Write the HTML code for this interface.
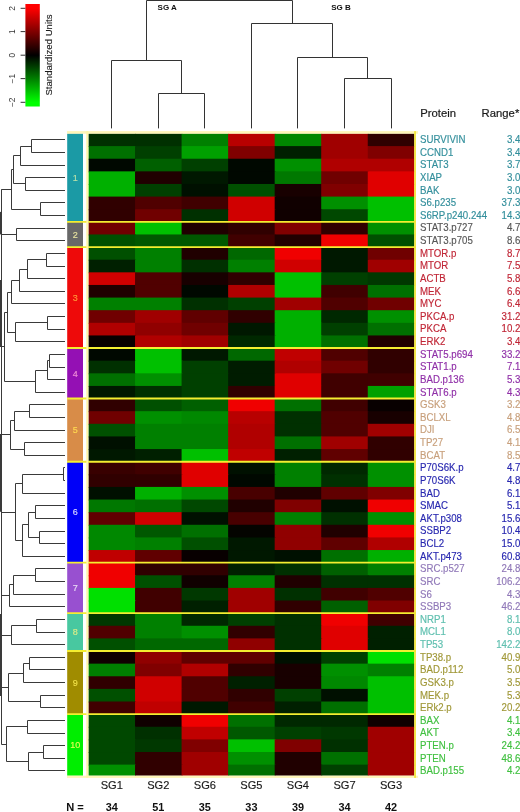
<!DOCTYPE html>
<html><head><meta charset="utf-8"><title>Heatmap</title>
<style>html,body{margin:0;padding:0;background:#fff;width:520px;height:812px;overflow:hidden}svg{display:block}</style></head><body>
<svg width="520" height="812" viewBox="0 0 520 812" font-family="'Liberation Sans', Arial, sans-serif">
<defs><linearGradient id="cb" x1="0" y1="0" x2="0" y2="1"><stop offset="0.04" stop-color="#ff0000"/><stop offset="0.5" stop-color="#000000"/><stop offset="0.96" stop-color="#00ff00"/></linearGradient></defs>
<rect width="520" height="812" fill="#ffffff"/>
<rect x="25.4" y="4" width="14.4" height="102.5" fill="url(#cb)"/>
<line x1="20.6" y1="8.3" x2="25.4" y2="8.3" stroke="#333" stroke-width="1"/>
<text x="0" y="0" transform="translate(15.2 8.3) rotate(-90)" text-anchor="middle" font-size="8.4" fill="#333">2</text>
<line x1="20.6" y1="31.6" x2="25.4" y2="31.6" stroke="#333" stroke-width="1"/>
<text x="0" y="0" transform="translate(15.2 31.6) rotate(-90)" text-anchor="middle" font-size="8.4" fill="#333">1</text>
<line x1="20.6" y1="55.2" x2="25.4" y2="55.2" stroke="#333" stroke-width="1"/>
<text x="0" y="0" transform="translate(15.2 55.2) rotate(-90)" text-anchor="middle" font-size="8.4" fill="#333">0</text>
<line x1="20.6" y1="78.6" x2="25.4" y2="78.6" stroke="#333" stroke-width="1"/>
<text x="0" y="0" transform="translate(15.2 78.6) rotate(-90)" text-anchor="middle" font-size="8.4" fill="#333">−1</text>
<line x1="20.6" y1="102.3" x2="25.4" y2="102.3" stroke="#333" stroke-width="1"/>
<text x="0" y="0" transform="translate(15.2 102.3) rotate(-90)" text-anchor="middle" font-size="8.4" fill="#333">−2</text>
<text x="0" y="0" transform="translate(52.2 55) rotate(-90)" text-anchor="middle" font-size="9.6" fill="#1a1a1a" stroke="#1a1a1a" stroke-width="0.12">Standardized Units</text>
<rect x="88.50" y="133.48" width="47.54" height="13.62" fill="#003000"/>
<rect x="135.04" y="133.48" width="47.54" height="13.62" fill="#003000"/>
<rect x="181.59" y="133.48" width="47.54" height="13.62" fill="#008000"/>
<rect x="228.13" y="133.48" width="47.54" height="13.62" fill="#b80000"/>
<rect x="274.67" y="133.48" width="47.54" height="13.62" fill="#008800"/>
<rect x="321.21" y="133.48" width="47.54" height="13.62" fill="#a00000"/>
<rect x="367.76" y="133.48" width="46.54" height="13.62" fill="#300000"/>
<rect x="88.50" y="146.10" width="47.54" height="13.62" fill="#007000"/>
<rect x="135.04" y="146.10" width="47.54" height="13.62" fill="#004000"/>
<rect x="181.59" y="146.10" width="47.54" height="13.62" fill="#00a000"/>
<rect x="228.13" y="146.10" width="47.54" height="13.62" fill="#800000"/>
<rect x="274.67" y="146.10" width="47.54" height="13.62" fill="#002000"/>
<rect x="321.21" y="146.10" width="47.54" height="13.62" fill="#a00000"/>
<rect x="367.76" y="146.10" width="46.54" height="13.62" fill="#800000"/>
<rect x="88.50" y="158.73" width="47.54" height="13.62" fill="#000800"/>
<rect x="135.04" y="158.73" width="47.54" height="13.62" fill="#006000"/>
<rect x="181.59" y="158.73" width="47.54" height="13.62" fill="#004000"/>
<rect x="228.13" y="158.73" width="47.54" height="13.62" fill="#000800"/>
<rect x="274.67" y="158.73" width="47.54" height="13.62" fill="#009000"/>
<rect x="321.21" y="158.73" width="47.54" height="13.62" fill="#b00000"/>
<rect x="367.76" y="158.73" width="46.54" height="13.62" fill="#b00000"/>
<rect x="88.50" y="171.35" width="47.54" height="13.62" fill="#00b000"/>
<rect x="135.04" y="171.35" width="47.54" height="13.62" fill="#200000"/>
<rect x="181.59" y="171.35" width="47.54" height="13.62" fill="#001800"/>
<rect x="228.13" y="171.35" width="47.54" height="13.62" fill="#000800"/>
<rect x="274.67" y="171.35" width="47.54" height="13.62" fill="#007800"/>
<rect x="321.21" y="171.35" width="47.54" height="13.62" fill="#700000"/>
<rect x="367.76" y="171.35" width="46.54" height="13.62" fill="#e00000"/>
<rect x="88.50" y="183.97" width="47.54" height="13.62" fill="#00b000"/>
<rect x="135.04" y="183.97" width="47.54" height="13.62" fill="#004000"/>
<rect x="181.59" y="183.97" width="47.54" height="13.62" fill="#001000"/>
<rect x="228.13" y="183.97" width="47.54" height="13.62" fill="#005000"/>
<rect x="274.67" y="183.97" width="47.54" height="13.62" fill="#180000"/>
<rect x="321.21" y="183.97" width="47.54" height="13.62" fill="#800000"/>
<rect x="367.76" y="183.97" width="46.54" height="13.62" fill="#e00000"/>
<rect x="88.50" y="196.59" width="47.54" height="13.62" fill="#300000"/>
<rect x="135.04" y="196.59" width="47.54" height="13.62" fill="#500000"/>
<rect x="181.59" y="196.59" width="47.54" height="13.62" fill="#400000"/>
<rect x="228.13" y="196.59" width="47.54" height="13.62" fill="#d00000"/>
<rect x="274.67" y="196.59" width="47.54" height="13.62" fill="#100000"/>
<rect x="321.21" y="196.59" width="47.54" height="13.62" fill="#009000"/>
<rect x="367.76" y="196.59" width="46.54" height="13.62" fill="#00c000"/>
<rect x="88.50" y="209.22" width="47.54" height="13.62" fill="#300000"/>
<rect x="135.04" y="209.22" width="47.54" height="13.62" fill="#700000"/>
<rect x="181.59" y="209.22" width="47.54" height="13.62" fill="#003000"/>
<rect x="228.13" y="209.22" width="47.54" height="13.62" fill="#d00000"/>
<rect x="274.67" y="209.22" width="47.54" height="13.62" fill="#100000"/>
<rect x="321.21" y="209.22" width="47.54" height="13.62" fill="#004800"/>
<rect x="367.76" y="209.22" width="46.54" height="13.62" fill="#00c000"/>
<rect x="88.50" y="221.84" width="47.54" height="13.62" fill="#700000"/>
<rect x="135.04" y="221.84" width="47.54" height="13.62" fill="#00c000"/>
<rect x="181.59" y="221.84" width="47.54" height="13.62" fill="#200000"/>
<rect x="228.13" y="221.84" width="47.54" height="13.62" fill="#300000"/>
<rect x="274.67" y="221.84" width="47.54" height="13.62" fill="#800000"/>
<rect x="321.21" y="221.84" width="47.54" height="13.62" fill="#300000"/>
<rect x="367.76" y="221.84" width="46.54" height="13.62" fill="#009000"/>
<rect x="88.50" y="234.46" width="47.54" height="13.62" fill="#005000"/>
<rect x="135.04" y="234.46" width="47.54" height="13.62" fill="#005800"/>
<rect x="181.59" y="234.46" width="47.54" height="13.62" fill="#005800"/>
<rect x="228.13" y="234.46" width="47.54" height="13.62" fill="#400000"/>
<rect x="274.67" y="234.46" width="47.54" height="13.62" fill="#200000"/>
<rect x="321.21" y="234.46" width="47.54" height="13.62" fill="#f00000"/>
<rect x="367.76" y="234.46" width="46.54" height="13.62" fill="#005000"/>
<rect x="88.50" y="247.09" width="47.54" height="13.62" fill="#005000"/>
<rect x="135.04" y="247.09" width="47.54" height="13.62" fill="#008000"/>
<rect x="181.59" y="247.09" width="47.54" height="13.62" fill="#200000"/>
<rect x="228.13" y="247.09" width="47.54" height="13.62" fill="#006800"/>
<rect x="274.67" y="247.09" width="47.54" height="13.62" fill="#f00000"/>
<rect x="321.21" y="247.09" width="47.54" height="13.62" fill="#001800"/>
<rect x="367.76" y="247.09" width="46.54" height="13.62" fill="#700000"/>
<rect x="88.50" y="259.71" width="47.54" height="13.62" fill="#002000"/>
<rect x="135.04" y="259.71" width="47.54" height="13.62" fill="#008000"/>
<rect x="181.59" y="259.71" width="47.54" height="13.62" fill="#003000"/>
<rect x="228.13" y="259.71" width="47.54" height="13.62" fill="#008000"/>
<rect x="274.67" y="259.71" width="47.54" height="13.62" fill="#d00000"/>
<rect x="321.21" y="259.71" width="47.54" height="13.62" fill="#001800"/>
<rect x="367.76" y="259.71" width="46.54" height="13.62" fill="#a00000"/>
<rect x="88.50" y="272.33" width="47.54" height="13.62" fill="#d00000"/>
<rect x="135.04" y="272.33" width="47.54" height="13.62" fill="#500000"/>
<rect x="181.59" y="272.33" width="47.54" height="13.62" fill="#180000"/>
<rect x="228.13" y="272.33" width="47.54" height="13.62" fill="#300000"/>
<rect x="274.67" y="272.33" width="47.54" height="13.62" fill="#00c000"/>
<rect x="321.21" y="272.33" width="47.54" height="13.62" fill="#004000"/>
<rect x="367.76" y="272.33" width="46.54" height="13.62" fill="#003800"/>
<rect x="88.50" y="284.96" width="47.54" height="13.62" fill="#200000"/>
<rect x="135.04" y="284.96" width="47.54" height="13.62" fill="#500000"/>
<rect x="181.59" y="284.96" width="47.54" height="13.62" fill="#000800"/>
<rect x="228.13" y="284.96" width="47.54" height="13.62" fill="#b00000"/>
<rect x="274.67" y="284.96" width="47.54" height="13.62" fill="#00c000"/>
<rect x="321.21" y="284.96" width="47.54" height="13.62" fill="#400000"/>
<rect x="367.76" y="284.96" width="46.54" height="13.62" fill="#007000"/>
<rect x="88.50" y="297.58" width="47.54" height="13.62" fill="#008000"/>
<rect x="135.04" y="297.58" width="47.54" height="13.62" fill="#008000"/>
<rect x="181.59" y="297.58" width="47.54" height="13.62" fill="#003000"/>
<rect x="228.13" y="297.58" width="47.54" height="13.62" fill="#004000"/>
<rect x="274.67" y="297.58" width="47.54" height="13.62" fill="#a00000"/>
<rect x="321.21" y="297.58" width="47.54" height="13.62" fill="#500000"/>
<rect x="367.76" y="297.58" width="46.54" height="13.62" fill="#700000"/>
<rect x="88.50" y="310.20" width="47.54" height="13.62" fill="#700000"/>
<rect x="135.04" y="310.20" width="47.54" height="13.62" fill="#a00000"/>
<rect x="181.59" y="310.20" width="47.54" height="13.62" fill="#600000"/>
<rect x="228.13" y="310.20" width="47.54" height="13.62" fill="#300000"/>
<rect x="274.67" y="310.20" width="47.54" height="13.62" fill="#00b000"/>
<rect x="321.21" y="310.20" width="47.54" height="13.62" fill="#002800"/>
<rect x="367.76" y="310.20" width="46.54" height="13.62" fill="#009000"/>
<rect x="88.50" y="322.82" width="47.54" height="13.62" fill="#b00000"/>
<rect x="135.04" y="322.82" width="47.54" height="13.62" fill="#900000"/>
<rect x="181.59" y="322.82" width="47.54" height="13.62" fill="#700000"/>
<rect x="228.13" y="322.82" width="47.54" height="13.62" fill="#001800"/>
<rect x="274.67" y="322.82" width="47.54" height="13.62" fill="#00b000"/>
<rect x="321.21" y="322.82" width="47.54" height="13.62" fill="#004000"/>
<rect x="367.76" y="322.82" width="46.54" height="13.62" fill="#007000"/>
<rect x="88.50" y="335.45" width="47.54" height="13.62" fill="#080000"/>
<rect x="135.04" y="335.45" width="47.54" height="13.62" fill="#b00000"/>
<rect x="181.59" y="335.45" width="47.54" height="13.62" fill="#a00000"/>
<rect x="228.13" y="335.45" width="47.54" height="13.62" fill="#002800"/>
<rect x="274.67" y="335.45" width="47.54" height="13.62" fill="#00b000"/>
<rect x="321.21" y="335.45" width="47.54" height="13.62" fill="#007000"/>
<rect x="367.76" y="335.45" width="46.54" height="13.62" fill="#200000"/>
<rect x="88.50" y="348.07" width="47.54" height="13.62" fill="#000800"/>
<rect x="135.04" y="348.07" width="47.54" height="13.62" fill="#00c000"/>
<rect x="181.59" y="348.07" width="47.54" height="13.62" fill="#001800"/>
<rect x="228.13" y="348.07" width="47.54" height="13.62" fill="#006800"/>
<rect x="274.67" y="348.07" width="47.54" height="13.62" fill="#c00000"/>
<rect x="321.21" y="348.07" width="47.54" height="13.62" fill="#500000"/>
<rect x="367.76" y="348.07" width="46.54" height="13.62" fill="#300000"/>
<rect x="88.50" y="360.69" width="47.54" height="13.62" fill="#003000"/>
<rect x="135.04" y="360.69" width="47.54" height="13.62" fill="#00c000"/>
<rect x="181.59" y="360.69" width="47.54" height="13.62" fill="#004000"/>
<rect x="228.13" y="360.69" width="47.54" height="13.62" fill="#001c00"/>
<rect x="274.67" y="360.69" width="47.54" height="13.62" fill="#b00000"/>
<rect x="321.21" y="360.69" width="47.54" height="13.62" fill="#700000"/>
<rect x="367.76" y="360.69" width="46.54" height="13.62" fill="#300000"/>
<rect x="88.50" y="373.32" width="47.54" height="13.62" fill="#007000"/>
<rect x="135.04" y="373.32" width="47.54" height="13.62" fill="#009000"/>
<rect x="181.59" y="373.32" width="47.54" height="13.62" fill="#004000"/>
<rect x="228.13" y="373.32" width="47.54" height="13.62" fill="#001c00"/>
<rect x="274.67" y="373.32" width="47.54" height="13.62" fill="#e00000"/>
<rect x="321.21" y="373.32" width="47.54" height="13.62" fill="#400000"/>
<rect x="367.76" y="373.32" width="46.54" height="13.62" fill="#400000"/>
<rect x="88.50" y="385.94" width="47.54" height="13.62" fill="#001800"/>
<rect x="135.04" y="385.94" width="47.54" height="13.62" fill="#003000"/>
<rect x="181.59" y="385.94" width="47.54" height="13.62" fill="#004000"/>
<rect x="228.13" y="385.94" width="47.54" height="13.62" fill="#300000"/>
<rect x="274.67" y="385.94" width="47.54" height="13.62" fill="#e00000"/>
<rect x="321.21" y="385.94" width="47.54" height="13.62" fill="#400000"/>
<rect x="367.76" y="385.94" width="46.54" height="13.62" fill="#00a000"/>
<rect x="88.50" y="398.56" width="47.54" height="13.62" fill="#300000"/>
<rect x="135.04" y="398.56" width="47.54" height="13.62" fill="#005000"/>
<rect x="181.59" y="398.56" width="47.54" height="13.62" fill="#006000"/>
<rect x="228.13" y="398.56" width="47.54" height="13.62" fill="#f00000"/>
<rect x="274.67" y="398.56" width="47.54" height="13.62" fill="#007000"/>
<rect x="321.21" y="398.56" width="47.54" height="13.62" fill="#400000"/>
<rect x="367.76" y="398.56" width="46.54" height="13.62" fill="#080000"/>
<rect x="88.50" y="411.19" width="47.54" height="13.62" fill="#700000"/>
<rect x="135.04" y="411.19" width="47.54" height="13.62" fill="#009000"/>
<rect x="181.59" y="411.19" width="47.54" height="13.62" fill="#008800"/>
<rect x="228.13" y="411.19" width="47.54" height="13.62" fill="#b80000"/>
<rect x="274.67" y="411.19" width="47.54" height="13.62" fill="#003000"/>
<rect x="321.21" y="411.19" width="47.54" height="13.62" fill="#500000"/>
<rect x="367.76" y="411.19" width="46.54" height="13.62" fill="#180000"/>
<rect x="88.50" y="423.81" width="47.54" height="13.62" fill="#005000"/>
<rect x="135.04" y="423.81" width="47.54" height="13.62" fill="#008000"/>
<rect x="181.59" y="423.81" width="47.54" height="13.62" fill="#008000"/>
<rect x="228.13" y="423.81" width="47.54" height="13.62" fill="#b00000"/>
<rect x="274.67" y="423.81" width="47.54" height="13.62" fill="#003000"/>
<rect x="321.21" y="423.81" width="47.54" height="13.62" fill="#500000"/>
<rect x="367.76" y="423.81" width="46.54" height="13.62" fill="#a00000"/>
<rect x="88.50" y="436.43" width="47.54" height="13.62" fill="#001000"/>
<rect x="135.04" y="436.43" width="47.54" height="13.62" fill="#008000"/>
<rect x="181.59" y="436.43" width="47.54" height="13.62" fill="#008000"/>
<rect x="228.13" y="436.43" width="47.54" height="13.62" fill="#b00000"/>
<rect x="274.67" y="436.43" width="47.54" height="13.62" fill="#007000"/>
<rect x="321.21" y="436.43" width="47.54" height="13.62" fill="#a00000"/>
<rect x="367.76" y="436.43" width="46.54" height="13.62" fill="#300000"/>
<rect x="88.50" y="449.05" width="47.54" height="13.62" fill="#001800"/>
<rect x="135.04" y="449.05" width="47.54" height="13.62" fill="#002000"/>
<rect x="181.59" y="449.05" width="47.54" height="13.62" fill="#00c000"/>
<rect x="228.13" y="449.05" width="47.54" height="13.62" fill="#c00000"/>
<rect x="274.67" y="449.05" width="47.54" height="13.62" fill="#002000"/>
<rect x="321.21" y="449.05" width="47.54" height="13.62" fill="#600000"/>
<rect x="367.76" y="449.05" width="46.54" height="13.62" fill="#300000"/>
<rect x="88.50" y="461.68" width="47.54" height="13.62" fill="#380000"/>
<rect x="135.04" y="461.68" width="47.54" height="13.62" fill="#400000"/>
<rect x="181.59" y="461.68" width="47.54" height="13.62" fill="#e00000"/>
<rect x="228.13" y="461.68" width="47.54" height="13.62" fill="#001000"/>
<rect x="274.67" y="461.68" width="47.54" height="13.62" fill="#008000"/>
<rect x="321.21" y="461.68" width="47.54" height="13.62" fill="#002800"/>
<rect x="367.76" y="461.68" width="46.54" height="13.62" fill="#009000"/>
<rect x="88.50" y="474.30" width="47.54" height="13.62" fill="#300000"/>
<rect x="135.04" y="474.30" width="47.54" height="13.62" fill="#300000"/>
<rect x="181.59" y="474.30" width="47.54" height="13.62" fill="#e00000"/>
<rect x="228.13" y="474.30" width="47.54" height="13.62" fill="#000800"/>
<rect x="274.67" y="474.30" width="47.54" height="13.62" fill="#008000"/>
<rect x="321.21" y="474.30" width="47.54" height="13.62" fill="#003000"/>
<rect x="367.76" y="474.30" width="46.54" height="13.62" fill="#009000"/>
<rect x="88.50" y="486.92" width="47.54" height="13.62" fill="#001000"/>
<rect x="135.04" y="486.92" width="47.54" height="13.62" fill="#00b000"/>
<rect x="181.59" y="486.92" width="47.54" height="13.62" fill="#009000"/>
<rect x="228.13" y="486.92" width="47.54" height="13.62" fill="#480000"/>
<rect x="274.67" y="486.92" width="47.54" height="13.62" fill="#200000"/>
<rect x="321.21" y="486.92" width="47.54" height="13.62" fill="#600000"/>
<rect x="367.76" y="486.92" width="46.54" height="13.62" fill="#800000"/>
<rect x="88.50" y="499.55" width="47.54" height="13.62" fill="#007800"/>
<rect x="135.04" y="499.55" width="47.54" height="13.62" fill="#007000"/>
<rect x="181.59" y="499.55" width="47.54" height="13.62" fill="#004800"/>
<rect x="228.13" y="499.55" width="47.54" height="13.62" fill="#200000"/>
<rect x="274.67" y="499.55" width="47.54" height="13.62" fill="#800000"/>
<rect x="321.21" y="499.55" width="47.54" height="13.62" fill="#001000"/>
<rect x="367.76" y="499.55" width="46.54" height="13.62" fill="#f00000"/>
<rect x="88.50" y="512.17" width="47.54" height="13.62" fill="#600000"/>
<rect x="135.04" y="512.17" width="47.54" height="13.62" fill="#d00000"/>
<rect x="181.59" y="512.17" width="47.54" height="13.62" fill="#001000"/>
<rect x="228.13" y="512.17" width="47.54" height="13.62" fill="#480000"/>
<rect x="274.67" y="512.17" width="47.54" height="13.62" fill="#008000"/>
<rect x="321.21" y="512.17" width="47.54" height="13.62" fill="#003000"/>
<rect x="367.76" y="512.17" width="46.54" height="13.62" fill="#009000"/>
<rect x="88.50" y="524.79" width="47.54" height="13.62" fill="#008800"/>
<rect x="135.04" y="524.79" width="47.54" height="13.62" fill="#005800"/>
<rect x="181.59" y="524.79" width="47.54" height="13.62" fill="#007000"/>
<rect x="228.13" y="524.79" width="47.54" height="13.62" fill="#040400"/>
<rect x="274.67" y="524.79" width="47.54" height="13.62" fill="#900000"/>
<rect x="321.21" y="524.79" width="47.54" height="13.62" fill="#200000"/>
<rect x="367.76" y="524.79" width="46.54" height="13.62" fill="#f00000"/>
<rect x="88.50" y="537.42" width="47.54" height="13.62" fill="#008800"/>
<rect x="135.04" y="537.42" width="47.54" height="13.62" fill="#008000"/>
<rect x="181.59" y="537.42" width="47.54" height="13.62" fill="#005000"/>
<rect x="228.13" y="537.42" width="47.54" height="13.62" fill="#001800"/>
<rect x="274.67" y="537.42" width="47.54" height="13.62" fill="#900000"/>
<rect x="321.21" y="537.42" width="47.54" height="13.62" fill="#600000"/>
<rect x="367.76" y="537.42" width="46.54" height="13.62" fill="#b00000"/>
<rect x="88.50" y="550.04" width="47.54" height="13.62" fill="#c00000"/>
<rect x="135.04" y="550.04" width="47.54" height="13.62" fill="#600000"/>
<rect x="181.59" y="550.04" width="47.54" height="13.62" fill="#080000"/>
<rect x="228.13" y="550.04" width="47.54" height="13.62" fill="#001800"/>
<rect x="274.67" y="550.04" width="47.54" height="13.62" fill="#001000"/>
<rect x="321.21" y="550.04" width="47.54" height="13.62" fill="#007000"/>
<rect x="367.76" y="550.04" width="46.54" height="13.62" fill="#00b000"/>
<rect x="88.50" y="562.66" width="47.54" height="13.62" fill="#f00000"/>
<rect x="135.04" y="562.66" width="47.54" height="13.62" fill="#300000"/>
<rect x="181.59" y="562.66" width="47.54" height="13.62" fill="#300000"/>
<rect x="228.13" y="562.66" width="47.54" height="13.62" fill="#002000"/>
<rect x="274.67" y="562.66" width="47.54" height="13.62" fill="#003000"/>
<rect x="321.21" y="562.66" width="47.54" height="13.62" fill="#006000"/>
<rect x="367.76" y="562.66" width="46.54" height="13.62" fill="#008000"/>
<rect x="88.50" y="575.28" width="47.54" height="13.62" fill="#f00000"/>
<rect x="135.04" y="575.28" width="47.54" height="13.62" fill="#005000"/>
<rect x="181.59" y="575.28" width="47.54" height="13.62" fill="#100000"/>
<rect x="228.13" y="575.28" width="47.54" height="13.62" fill="#008000"/>
<rect x="274.67" y="575.28" width="47.54" height="13.62" fill="#200000"/>
<rect x="321.21" y="575.28" width="47.54" height="13.62" fill="#003000"/>
<rect x="367.76" y="575.28" width="46.54" height="13.62" fill="#003000"/>
<rect x="88.50" y="587.91" width="47.54" height="13.62" fill="#00e000"/>
<rect x="135.04" y="587.91" width="47.54" height="13.62" fill="#400000"/>
<rect x="181.59" y="587.91" width="47.54" height="13.62" fill="#003800"/>
<rect x="228.13" y="587.91" width="47.54" height="13.62" fill="#a00000"/>
<rect x="274.67" y="587.91" width="47.54" height="13.62" fill="#003000"/>
<rect x="321.21" y="587.91" width="47.54" height="13.62" fill="#400000"/>
<rect x="367.76" y="587.91" width="46.54" height="13.62" fill="#500000"/>
<rect x="88.50" y="600.53" width="47.54" height="13.62" fill="#00e000"/>
<rect x="135.04" y="600.53" width="47.54" height="13.62" fill="#400000"/>
<rect x="181.59" y="600.53" width="47.54" height="13.62" fill="#002000"/>
<rect x="228.13" y="600.53" width="47.54" height="13.62" fill="#a00000"/>
<rect x="274.67" y="600.53" width="47.54" height="13.62" fill="#300000"/>
<rect x="321.21" y="600.53" width="47.54" height="13.62" fill="#006000"/>
<rect x="367.76" y="600.53" width="46.54" height="13.62" fill="#800000"/>
<rect x="88.50" y="613.15" width="47.54" height="13.62" fill="#003800"/>
<rect x="135.04" y="613.15" width="47.54" height="13.62" fill="#008000"/>
<rect x="181.59" y="613.15" width="47.54" height="13.62" fill="#002800"/>
<rect x="228.13" y="613.15" width="47.54" height="13.62" fill="#004000"/>
<rect x="274.67" y="613.15" width="47.54" height="13.62" fill="#003000"/>
<rect x="321.21" y="613.15" width="47.54" height="13.62" fill="#f00000"/>
<rect x="367.76" y="613.15" width="46.54" height="13.62" fill="#400000"/>
<rect x="88.50" y="625.78" width="47.54" height="13.62" fill="#500000"/>
<rect x="135.04" y="625.78" width="47.54" height="13.62" fill="#008000"/>
<rect x="181.59" y="625.78" width="47.54" height="13.62" fill="#009000"/>
<rect x="228.13" y="625.78" width="47.54" height="13.62" fill="#300000"/>
<rect x="274.67" y="625.78" width="47.54" height="13.62" fill="#003000"/>
<rect x="321.21" y="625.78" width="47.54" height="13.62" fill="#e00000"/>
<rect x="367.76" y="625.78" width="46.54" height="13.62" fill="#002000"/>
<rect x="88.50" y="638.40" width="47.54" height="13.62" fill="#005000"/>
<rect x="135.04" y="638.40" width="47.54" height="13.62" fill="#006800"/>
<rect x="181.59" y="638.40" width="47.54" height="13.62" fill="#006800"/>
<rect x="228.13" y="638.40" width="47.54" height="13.62" fill="#900000"/>
<rect x="274.67" y="638.40" width="47.54" height="13.62" fill="#003000"/>
<rect x="321.21" y="638.40" width="47.54" height="13.62" fill="#e00000"/>
<rect x="367.76" y="638.40" width="46.54" height="13.62" fill="#002000"/>
<rect x="88.50" y="651.02" width="47.54" height="13.62" fill="#100000"/>
<rect x="135.04" y="651.02" width="47.54" height="13.62" fill="#900000"/>
<rect x="181.59" y="651.02" width="47.54" height="13.62" fill="#600000"/>
<rect x="228.13" y="651.02" width="47.54" height="13.62" fill="#600000"/>
<rect x="274.67" y="651.02" width="47.54" height="13.62" fill="#001000"/>
<rect x="321.21" y="651.02" width="47.54" height="13.62" fill="#004000"/>
<rect x="367.76" y="651.02" width="46.54" height="13.62" fill="#00e000"/>
<rect x="88.50" y="663.65" width="47.54" height="13.62" fill="#008000"/>
<rect x="135.04" y="663.65" width="47.54" height="13.62" fill="#800000"/>
<rect x="181.59" y="663.65" width="47.54" height="13.62" fill="#b00000"/>
<rect x="228.13" y="663.65" width="47.54" height="13.62" fill="#300000"/>
<rect x="274.67" y="663.65" width="47.54" height="13.62" fill="#180000"/>
<rect x="321.21" y="663.65" width="47.54" height="13.62" fill="#009000"/>
<rect x="367.76" y="663.65" width="46.54" height="13.62" fill="#008000"/>
<rect x="88.50" y="676.27" width="47.54" height="13.62" fill="#300000"/>
<rect x="135.04" y="676.27" width="47.54" height="13.62" fill="#d00000"/>
<rect x="181.59" y="676.27" width="47.54" height="13.62" fill="#500000"/>
<rect x="228.13" y="676.27" width="47.54" height="13.62" fill="#002000"/>
<rect x="274.67" y="676.27" width="47.54" height="13.62" fill="#180000"/>
<rect x="321.21" y="676.27" width="47.54" height="13.62" fill="#008800"/>
<rect x="367.76" y="676.27" width="46.54" height="13.62" fill="#00c000"/>
<rect x="88.50" y="688.89" width="47.54" height="13.62" fill="#005000"/>
<rect x="135.04" y="688.89" width="47.54" height="13.62" fill="#d00000"/>
<rect x="181.59" y="688.89" width="47.54" height="13.62" fill="#500000"/>
<rect x="228.13" y="688.89" width="47.54" height="13.62" fill="#300000"/>
<rect x="274.67" y="688.89" width="47.54" height="13.62" fill="#004000"/>
<rect x="321.21" y="688.89" width="47.54" height="13.62" fill="#001000"/>
<rect x="367.76" y="688.89" width="46.54" height="13.62" fill="#00c000"/>
<rect x="88.50" y="701.51" width="47.54" height="13.62" fill="#400000"/>
<rect x="135.04" y="701.51" width="47.54" height="13.62" fill="#c00000"/>
<rect x="181.59" y="701.51" width="47.54" height="13.62" fill="#001800"/>
<rect x="228.13" y="701.51" width="47.54" height="13.62" fill="#400000"/>
<rect x="274.67" y="701.51" width="47.54" height="13.62" fill="#002000"/>
<rect x="321.21" y="701.51" width="47.54" height="13.62" fill="#007000"/>
<rect x="367.76" y="701.51" width="46.54" height="13.62" fill="#00c000"/>
<rect x="88.50" y="714.14" width="47.54" height="13.62" fill="#004800"/>
<rect x="135.04" y="714.14" width="47.54" height="13.62" fill="#100000"/>
<rect x="181.59" y="714.14" width="47.54" height="13.62" fill="#f00000"/>
<rect x="228.13" y="714.14" width="47.54" height="13.62" fill="#007000"/>
<rect x="274.67" y="714.14" width="47.54" height="13.62" fill="#002800"/>
<rect x="321.21" y="714.14" width="47.54" height="13.62" fill="#002800"/>
<rect x="367.76" y="714.14" width="46.54" height="13.62" fill="#100000"/>
<rect x="88.50" y="726.76" width="47.54" height="13.62" fill="#004800"/>
<rect x="135.04" y="726.76" width="47.54" height="13.62" fill="#003000"/>
<rect x="181.59" y="726.76" width="47.54" height="13.62" fill="#c00000"/>
<rect x="228.13" y="726.76" width="47.54" height="13.62" fill="#005800"/>
<rect x="274.67" y="726.76" width="47.54" height="13.62" fill="#004000"/>
<rect x="321.21" y="726.76" width="47.54" height="13.62" fill="#003800"/>
<rect x="367.76" y="726.76" width="46.54" height="13.62" fill="#a00000"/>
<rect x="88.50" y="739.38" width="47.54" height="13.62" fill="#004800"/>
<rect x="135.04" y="739.38" width="47.54" height="13.62" fill="#003800"/>
<rect x="181.59" y="739.38" width="47.54" height="13.62" fill="#800000"/>
<rect x="228.13" y="739.38" width="47.54" height="13.62" fill="#00c000"/>
<rect x="274.67" y="739.38" width="47.54" height="13.62" fill="#800000"/>
<rect x="321.21" y="739.38" width="47.54" height="13.62" fill="#003000"/>
<rect x="367.76" y="739.38" width="46.54" height="13.62" fill="#a00000"/>
<rect x="88.50" y="752.01" width="47.54" height="13.62" fill="#004800"/>
<rect x="135.04" y="752.01" width="47.54" height="13.62" fill="#300000"/>
<rect x="181.59" y="752.01" width="47.54" height="13.62" fill="#a00000"/>
<rect x="228.13" y="752.01" width="47.54" height="13.62" fill="#009000"/>
<rect x="274.67" y="752.01" width="47.54" height="13.62" fill="#200000"/>
<rect x="321.21" y="752.01" width="47.54" height="13.62" fill="#007000"/>
<rect x="367.76" y="752.01" width="46.54" height="13.62" fill="#a00000"/>
<rect x="88.50" y="764.63" width="47.54" height="11.07" fill="#009000"/>
<rect x="135.04" y="764.63" width="47.54" height="11.07" fill="#300000"/>
<rect x="181.59" y="764.63" width="47.54" height="11.07" fill="#a00000"/>
<rect x="228.13" y="764.63" width="47.54" height="11.07" fill="#007000"/>
<rect x="274.67" y="764.63" width="47.54" height="11.07" fill="#200000"/>
<rect x="321.21" y="764.63" width="47.54" height="11.07" fill="#004000"/>
<rect x="367.76" y="764.63" width="46.54" height="11.07" fill="#a00000"/>
<rect x="67.2" y="133.48" width="15.8" height="88.36" fill="#1b9aa5"/>
<text x="75.3" y="180.96" text-anchor="middle" font-size="9" fill="#b8e0a8" stroke="#b8e0a8" stroke-width="0.15">1</text>
<rect x="67.2" y="221.84" width="15.8" height="25.25" fill="#686868"/>
<text x="75.3" y="237.76" text-anchor="middle" font-size="9" fill="#e8e4a0" stroke="#e8e4a0" stroke-width="0.15">2</text>
<rect x="67.2" y="247.09" width="15.8" height="100.98" fill="#ee0a0a"/>
<text x="75.3" y="300.88" text-anchor="middle" font-size="9" fill="#ff9838" stroke="#ff9838" stroke-width="0.15">3</text>
<rect x="67.2" y="348.07" width="15.8" height="50.49" fill="#9410b4"/>
<text x="75.3" y="376.62" text-anchor="middle" font-size="9" fill="#f090d8" stroke="#f090d8" stroke-width="0.15">4</text>
<rect x="67.2" y="398.56" width="15.8" height="63.11" fill="#d88c48"/>
<text x="75.3" y="433.42" text-anchor="middle" font-size="9" fill="#ffd850" stroke="#ffd850" stroke-width="0.15">5</text>
<rect x="67.2" y="461.68" width="15.8" height="100.98" fill="#0000f8"/>
<text x="75.3" y="515.47" text-anchor="middle" font-size="9" fill="#d8d8ff" stroke="#d8d8ff" stroke-width="0.15">6</text>
<rect x="67.2" y="562.66" width="15.8" height="50.49" fill="#9850d0"/>
<text x="75.3" y="591.21" text-anchor="middle" font-size="9" fill="#e8d8f4" stroke="#e8d8f4" stroke-width="0.15">7</text>
<rect x="67.2" y="613.15" width="15.8" height="37.87" fill="#48c8a0"/>
<text x="75.3" y="635.39" text-anchor="middle" font-size="9" fill="#dcec88" stroke="#dcec88" stroke-width="0.15">8</text>
<rect x="67.2" y="651.02" width="15.8" height="63.12" fill="#a08c00"/>
<text x="75.3" y="685.88" text-anchor="middle" font-size="9" fill="#f0e048" stroke="#f0e048" stroke-width="0.15">9</text>
<rect x="67.2" y="714.14" width="15.8" height="61.56" fill="#00ee00"/>
<text x="75.3" y="748.22" text-anchor="middle" font-size="9" fill="#e0ff50" stroke="#e0ff50" stroke-width="0.15">10</text>
<line x1="67" y1="221.84" x2="416" y2="221.84" stroke="#f4ee30" stroke-width="1.9"/>
<line x1="67" y1="247.09" x2="416" y2="247.09" stroke="#f4ee30" stroke-width="1.9"/>
<line x1="67" y1="348.07" x2="416" y2="348.07" stroke="#f4ee30" stroke-width="1.9"/>
<line x1="67" y1="398.56" x2="416" y2="398.56" stroke="#f4ee30" stroke-width="1.9"/>
<line x1="67" y1="461.68" x2="416" y2="461.68" stroke="#f4ee30" stroke-width="1.9"/>
<line x1="67" y1="562.66" x2="416" y2="562.66" stroke="#f4ee30" stroke-width="1.9"/>
<line x1="67" y1="613.15" x2="416" y2="613.15" stroke="#f4ee30" stroke-width="1.9"/>
<line x1="67" y1="651.02" x2="416" y2="651.02" stroke="#f4ee30" stroke-width="1.9"/>
<line x1="67" y1="714.14" x2="416" y2="714.14" stroke="#f4ee30" stroke-width="1.9"/>
<rect x="67" y="131.1" width="351" height="2.6" fill="#fff6b8"/>
<rect x="67" y="775.7" width="351" height="2.2" fill="#fff6b8"/>
<rect x="86.3" y="131.1" width="2.0" height="646.8" fill="#fff6a8"/>
<rect x="414.2" y="131.1" width="1.7" height="646.8" fill="#f2e434"/>
<path d="M158.50 128.40V93.50H204.50V128.40" stroke="#333" stroke-width="1" fill="none"/>
<path d="M111.50 128.40V60.50H181.50V93.00" stroke="#333" stroke-width="1" fill="none"/>
<path d="M344.50 128.40V78.50H391.50V128.40" stroke="#333" stroke-width="1" fill="none"/>
<path d="M297.50 128.40V57.50H367.50V78.60" stroke="#333" stroke-width="1" fill="none"/>
<path d="M251.50 128.40V23.50H332.50V57.50" stroke="#333" stroke-width="1" fill="none"/>
<path d="M146.50 60.00V0.50H292.50V23.00" stroke="#333" stroke-width="1" fill="none"/>
<text x="157.6" y="9.5" font-size="8" font-weight="bold" fill="#111">SG A</text>
<text x="331.2" y="9.5" font-size="8" font-weight="bold" fill="#111">SG B</text>
<path d="M65.00 139.50H31.50V152.50H65.00" stroke="#3a3a3a" stroke-width="1" fill="none"/>
<path d="M31.70 146.50H20.50V165.50H65.00" stroke="#3a3a3a" stroke-width="1" fill="none"/>
<path d="M65.00 177.50H25.50V190.50H65.00" stroke="#3a3a3a" stroke-width="1" fill="none"/>
<path d="M20.80 155.50H13.50V183.50H25.40" stroke="#3a3a3a" stroke-width="1" fill="none"/>
<path d="M65.00 202.50H40.50V215.50H65.00" stroke="#3a3a3a" stroke-width="1" fill="none"/>
<path d="M13.80 169.50H11.50V209.50H40.70" stroke="#3a3a3a" stroke-width="1" fill="none"/>
<path d="M65.00 228.50H16.50V240.50H65.00" stroke="#3a3a3a" stroke-width="1" fill="none"/>
<path d="M11.60 189.50H1.50V234.50H16.80" stroke="#3a3a3a" stroke-width="1" fill="none"/>
<path d="M65.00 253.50H46.50V266.50H65.00" stroke="#3a3a3a" stroke-width="1" fill="none"/>
<path d="M46.70 259.50H27.50V278.50H65.00" stroke="#3a3a3a" stroke-width="1" fill="none"/>
<path d="M27.20 269.50H19.50V291.50H65.00" stroke="#3a3a3a" stroke-width="1" fill="none"/>
<path d="M19.90 280.50H11.50V303.50H65.00" stroke="#3a3a3a" stroke-width="1" fill="none"/>
<path d="M65.00 316.50H47.50V329.50H65.00" stroke="#3a3a3a" stroke-width="1" fill="none"/>
<path d="M47.10 322.50H15.50V341.50H65.00" stroke="#3a3a3a" stroke-width="1" fill="none"/>
<path d="M11.60 292.50H7.50V332.50H15.90" stroke="#3a3a3a" stroke-width="1" fill="none"/>
<path d="M65.00 354.50H49.50V367.50H65.00" stroke="#3a3a3a" stroke-width="1" fill="none"/>
<path d="M49.00 360.50H47.50V379.50H65.00" stroke="#3a3a3a" stroke-width="1" fill="none"/>
<path d="M47.60 370.50H35.50V392.50H65.00" stroke="#3a3a3a" stroke-width="1" fill="none"/>
<path d="M7.80 312.50H4.50V381.50H35.50" stroke="#3a3a3a" stroke-width="1" fill="none"/>
<path d="M65.00 404.50H29.50V417.50H65.00" stroke="#3a3a3a" stroke-width="1" fill="none"/>
<path d="M29.80 411.50H14.50V430.50H65.00" stroke="#3a3a3a" stroke-width="1" fill="none"/>
<path d="M65.00 442.50H24.50V455.50H65.00" stroke="#3a3a3a" stroke-width="1" fill="none"/>
<path d="M14.70 420.50H10.50V449.50H24.20" stroke="#3a3a3a" stroke-width="1" fill="none"/>
<path d="M65.00 467.50H63.50V480.50H65.00" stroke="#3a3a3a" stroke-width="1" fill="none"/>
<path d="M63.20 474.50H22.50V493.50H65.00" stroke="#3a3a3a" stroke-width="1" fill="none"/>
<path d="M65.00 505.50H35.50V518.50H65.00" stroke="#3a3a3a" stroke-width="1" fill="none"/>
<path d="M65.00 531.50H39.50V543.50H65.00" stroke="#3a3a3a" stroke-width="1" fill="none"/>
<path d="M35.50 512.50H28.50V537.50H39.50" stroke="#3a3a3a" stroke-width="1" fill="none"/>
<path d="M28.60 524.50H22.50V556.50H65.00" stroke="#3a3a3a" stroke-width="1" fill="none"/>
<path d="M22.00 483.50H15.50V540.50H22.50" stroke="#3a3a3a" stroke-width="1" fill="none"/>
<path d="M65.00 568.50H35.50V581.50H65.00" stroke="#3a3a3a" stroke-width="1" fill="none"/>
<path d="M35.50 575.50H13.50V594.50H65.00" stroke="#3a3a3a" stroke-width="1" fill="none"/>
<path d="M13.80 584.50H9.50V606.50H65.00" stroke="#3a3a3a" stroke-width="1" fill="none"/>
<path d="M65.00 619.50H36.50V632.50H65.00" stroke="#3a3a3a" stroke-width="1" fill="none"/>
<path d="M36.30 625.50H11.50V644.50H65.00" stroke="#3a3a3a" stroke-width="1" fill="none"/>
<path d="M65.00 657.50H29.50V669.50H65.00" stroke="#3a3a3a" stroke-width="1" fill="none"/>
<path d="M29.40 663.50H23.50V682.50H65.00" stroke="#3a3a3a" stroke-width="1" fill="none"/>
<path d="M65.00 695.50H40.50V707.50H65.00" stroke="#3a3a3a" stroke-width="1" fill="none"/>
<path d="M23.00 673.50H8.50V701.50H40.20" stroke="#3a3a3a" stroke-width="1" fill="none"/>
<path d="M65.00 720.50H27.50V733.50H65.00" stroke="#3a3a3a" stroke-width="1" fill="none"/>
<path d="M65.00 745.50H43.50V758.50H65.00" stroke="#3a3a3a" stroke-width="1" fill="none"/>
<path d="M43.80 752.50H28.50V770.50H65.00" stroke="#3a3a3a" stroke-width="1" fill="none"/>
<path d="M27.20 726.50H6.50V761.50H28.60" stroke="#3a3a3a" stroke-width="1" fill="none"/>
<line x1="1.50" y1="346.50" x2="4.50" y2="346.50" stroke="#3a3a3a" stroke-width="1" fill="none"/>
<line x1="1.50" y1="434.50" x2="10.40" y2="434.50" stroke="#3a3a3a" stroke-width="1" fill="none"/>
<line x1="1.50" y1="512.50" x2="15.90" y2="512.50" stroke="#3a3a3a" stroke-width="1" fill="none"/>
<line x1="1.50" y1="595.50" x2="9.90" y2="595.50" stroke="#3a3a3a" stroke-width="1" fill="none"/>
<line x1="1.50" y1="635.50" x2="11.60" y2="635.50" stroke="#3a3a3a" stroke-width="1" fill="none"/>
<line x1="1.50" y1="687.50" x2="8.30" y2="687.50" stroke="#3a3a3a" stroke-width="1" fill="none"/>
<line x1="1.50" y1="744.50" x2="6.90" y2="744.50" stroke="#3a3a3a" stroke-width="1" fill="none"/>
<line x1="1.50" y1="189.50" x2="1.50" y2="744.50" stroke="#3a3a3a" stroke-width="1" fill="none"/>
<line x1="0.50" y1="211.90" x2="0.50" y2="234.40" stroke="#3a3a3a" stroke-width="1"/>
<line x1="0.50" y1="280.00" x2="0.50" y2="347.00" stroke="#3a3a3a" stroke-width="1"/>
<line x1="0.50" y1="434.00" x2="0.50" y2="511.80" stroke="#3a3a3a" stroke-width="1"/>
<line x1="0.50" y1="614.00" x2="0.50" y2="696.00" stroke="#3a3a3a" stroke-width="1"/>
<text x="420.2" y="117.0" font-size="11.3" fill="#1a1a1a" stroke="#1a1a1a" stroke-width="0.2">Protein</text>
<text x="481.6" y="117.0" font-size="11.3" fill="#1a1a1a" stroke="#1a1a1a" stroke-width="0.2">Range*</text>
<text transform="translate(420.0 143.09) scale(0.94 1)" font-size="10.3" fill="#338f9c" stroke="#338f9c" stroke-width="0.16">SURVIVIN</text>
<text transform="translate(520.4 143.09) scale(0.94 1)" font-size="10.3" fill="#338f9c" stroke="#338f9c" stroke-width="0.16" text-anchor="end">3.4</text>
<text transform="translate(420.0 155.71) scale(0.94 1)" font-size="10.3" fill="#338f9c" stroke="#338f9c" stroke-width="0.16">CCND1</text>
<text transform="translate(520.4 155.71) scale(0.94 1)" font-size="10.3" fill="#338f9c" stroke="#338f9c" stroke-width="0.16" text-anchor="end">3.4</text>
<text transform="translate(420.0 168.34) scale(0.94 1)" font-size="10.3" fill="#338f9c" stroke="#338f9c" stroke-width="0.16">STAT3</text>
<text transform="translate(520.4 168.34) scale(0.94 1)" font-size="10.3" fill="#338f9c" stroke="#338f9c" stroke-width="0.16" text-anchor="end">3.7</text>
<text transform="translate(420.0 180.96) scale(0.94 1)" font-size="10.3" fill="#338f9c" stroke="#338f9c" stroke-width="0.16">XIAP</text>
<text transform="translate(520.4 180.96) scale(0.94 1)" font-size="10.3" fill="#338f9c" stroke="#338f9c" stroke-width="0.16" text-anchor="end">3.0</text>
<text transform="translate(420.0 193.58) scale(0.94 1)" font-size="10.3" fill="#338f9c" stroke="#338f9c" stroke-width="0.16">BAK</text>
<text transform="translate(520.4 193.58) scale(0.94 1)" font-size="10.3" fill="#338f9c" stroke="#338f9c" stroke-width="0.16" text-anchor="end">3.0</text>
<text transform="translate(420.0 206.21) scale(0.94 1)" font-size="10.3" fill="#338f9c" stroke="#338f9c" stroke-width="0.16">S6.p235</text>
<text transform="translate(520.4 206.21) scale(0.94 1)" font-size="10.3" fill="#338f9c" stroke="#338f9c" stroke-width="0.16" text-anchor="end">37.3</text>
<text transform="translate(420.0 218.83) scale(0.94 1)" font-size="10.3" fill="#338f9c" stroke="#338f9c" stroke-width="0.16">S6RP.p240.244</text>
<text transform="translate(520.4 218.83) scale(0.94 1)" font-size="10.3" fill="#338f9c" stroke="#338f9c" stroke-width="0.16" text-anchor="end">14.3</text>
<text transform="translate(420.0 231.45) scale(0.94 1)" font-size="10.3" fill="#575757" stroke="#575757" stroke-width="0.16">STAT3.p727</text>
<text transform="translate(520.4 231.45) scale(0.94 1)" font-size="10.3" fill="#575757" stroke="#575757" stroke-width="0.16" text-anchor="end">4.7</text>
<text transform="translate(420.0 244.08) scale(0.94 1)" font-size="10.3" fill="#575757" stroke="#575757" stroke-width="0.16">STAT3.p705</text>
<text transform="translate(520.4 244.08) scale(0.94 1)" font-size="10.3" fill="#575757" stroke="#575757" stroke-width="0.16" text-anchor="end">8.6</text>
<text transform="translate(420.0 256.70) scale(0.94 1)" font-size="10.3" fill="#c02636" stroke="#c02636" stroke-width="0.16">MTOR.p</text>
<text transform="translate(520.4 256.70) scale(0.94 1)" font-size="10.3" fill="#c02636" stroke="#c02636" stroke-width="0.16" text-anchor="end">8.7</text>
<text transform="translate(420.0 269.32) scale(0.94 1)" font-size="10.3" fill="#c02636" stroke="#c02636" stroke-width="0.16">MTOR</text>
<text transform="translate(520.4 269.32) scale(0.94 1)" font-size="10.3" fill="#c02636" stroke="#c02636" stroke-width="0.16" text-anchor="end">7.5</text>
<text transform="translate(420.0 281.94) scale(0.94 1)" font-size="10.3" fill="#c02636" stroke="#c02636" stroke-width="0.16">ACTB</text>
<text transform="translate(520.4 281.94) scale(0.94 1)" font-size="10.3" fill="#c02636" stroke="#c02636" stroke-width="0.16" text-anchor="end">5.8</text>
<text transform="translate(420.0 294.57) scale(0.94 1)" font-size="10.3" fill="#c02636" stroke="#c02636" stroke-width="0.16">MEK</text>
<text transform="translate(520.4 294.57) scale(0.94 1)" font-size="10.3" fill="#c02636" stroke="#c02636" stroke-width="0.16" text-anchor="end">6.6</text>
<text transform="translate(420.0 307.19) scale(0.94 1)" font-size="10.3" fill="#c02636" stroke="#c02636" stroke-width="0.16">MYC</text>
<text transform="translate(520.4 307.19) scale(0.94 1)" font-size="10.3" fill="#c02636" stroke="#c02636" stroke-width="0.16" text-anchor="end">6.4</text>
<text transform="translate(420.0 319.81) scale(0.94 1)" font-size="10.3" fill="#c02636" stroke="#c02636" stroke-width="0.16">PKCA.p</text>
<text transform="translate(520.4 319.81) scale(0.94 1)" font-size="10.3" fill="#c02636" stroke="#c02636" stroke-width="0.16" text-anchor="end">31.2</text>
<text transform="translate(420.0 332.44) scale(0.94 1)" font-size="10.3" fill="#c02636" stroke="#c02636" stroke-width="0.16">PKCA</text>
<text transform="translate(520.4 332.44) scale(0.94 1)" font-size="10.3" fill="#c02636" stroke="#c02636" stroke-width="0.16" text-anchor="end">10.2</text>
<text transform="translate(420.0 345.06) scale(0.94 1)" font-size="10.3" fill="#c02636" stroke="#c02636" stroke-width="0.16">ERK2</text>
<text transform="translate(520.4 345.06) scale(0.94 1)" font-size="10.3" fill="#c02636" stroke="#c02636" stroke-width="0.16" text-anchor="end">3.4</text>
<text transform="translate(420.0 357.68) scale(0.94 1)" font-size="10.3" fill="#9030a8" stroke="#9030a8" stroke-width="0.16">STAT5.p694</text>
<text transform="translate(520.4 357.68) scale(0.94 1)" font-size="10.3" fill="#9030a8" stroke="#9030a8" stroke-width="0.16" text-anchor="end">33.2</text>
<text transform="translate(420.0 370.31) scale(0.94 1)" font-size="10.3" fill="#9030a8" stroke="#9030a8" stroke-width="0.16">STAT1.p</text>
<text transform="translate(520.4 370.31) scale(0.94 1)" font-size="10.3" fill="#9030a8" stroke="#9030a8" stroke-width="0.16" text-anchor="end">7.1</text>
<text transform="translate(420.0 382.93) scale(0.94 1)" font-size="10.3" fill="#9030a8" stroke="#9030a8" stroke-width="0.16">BAD.p136</text>
<text transform="translate(520.4 382.93) scale(0.94 1)" font-size="10.3" fill="#9030a8" stroke="#9030a8" stroke-width="0.16" text-anchor="end">5.3</text>
<text transform="translate(420.0 395.55) scale(0.94 1)" font-size="10.3" fill="#9030a8" stroke="#9030a8" stroke-width="0.16">STAT6.p</text>
<text transform="translate(520.4 395.55) scale(0.94 1)" font-size="10.3" fill="#9030a8" stroke="#9030a8" stroke-width="0.16" text-anchor="end">4.3</text>
<text transform="translate(420.0 408.17) scale(0.94 1)" font-size="10.3" fill="#c8a07c" stroke="#c8a07c" stroke-width="0.16">GSK3</text>
<text transform="translate(520.4 408.17) scale(0.94 1)" font-size="10.3" fill="#c8a07c" stroke="#c8a07c" stroke-width="0.16" text-anchor="end">3.2</text>
<text transform="translate(420.0 420.80) scale(0.94 1)" font-size="10.3" fill="#c8a07c" stroke="#c8a07c" stroke-width="0.16">BCLXL</text>
<text transform="translate(520.4 420.80) scale(0.94 1)" font-size="10.3" fill="#c8a07c" stroke="#c8a07c" stroke-width="0.16" text-anchor="end">4.8</text>
<text transform="translate(420.0 433.42) scale(0.94 1)" font-size="10.3" fill="#c8a07c" stroke="#c8a07c" stroke-width="0.16">DJI</text>
<text transform="translate(520.4 433.42) scale(0.94 1)" font-size="10.3" fill="#c8a07c" stroke="#c8a07c" stroke-width="0.16" text-anchor="end">6.5</text>
<text transform="translate(420.0 446.04) scale(0.94 1)" font-size="10.3" fill="#c8a07c" stroke="#c8a07c" stroke-width="0.16">TP27</text>
<text transform="translate(520.4 446.04) scale(0.94 1)" font-size="10.3" fill="#c8a07c" stroke="#c8a07c" stroke-width="0.16" text-anchor="end">4.1</text>
<text transform="translate(420.0 458.67) scale(0.94 1)" font-size="10.3" fill="#c8a07c" stroke="#c8a07c" stroke-width="0.16">BCAT</text>
<text transform="translate(520.4 458.67) scale(0.94 1)" font-size="10.3" fill="#c8a07c" stroke="#c8a07c" stroke-width="0.16" text-anchor="end">8.5</text>
<text transform="translate(420.0 471.29) scale(0.94 1)" font-size="10.3" fill="#2828b0" stroke="#2828b0" stroke-width="0.16">P70S6K.p</text>
<text transform="translate(520.4 471.29) scale(0.94 1)" font-size="10.3" fill="#2828b0" stroke="#2828b0" stroke-width="0.16" text-anchor="end">4.7</text>
<text transform="translate(420.0 483.91) scale(0.94 1)" font-size="10.3" fill="#2828b0" stroke="#2828b0" stroke-width="0.16">P70S6K</text>
<text transform="translate(520.4 483.91) scale(0.94 1)" font-size="10.3" fill="#2828b0" stroke="#2828b0" stroke-width="0.16" text-anchor="end">4.8</text>
<text transform="translate(420.0 496.54) scale(0.94 1)" font-size="10.3" fill="#2828b0" stroke="#2828b0" stroke-width="0.16">BAD</text>
<text transform="translate(520.4 496.54) scale(0.94 1)" font-size="10.3" fill="#2828b0" stroke="#2828b0" stroke-width="0.16" text-anchor="end">6.1</text>
<text transform="translate(420.0 509.16) scale(0.94 1)" font-size="10.3" fill="#2828b0" stroke="#2828b0" stroke-width="0.16">SMAC</text>
<text transform="translate(520.4 509.16) scale(0.94 1)" font-size="10.3" fill="#2828b0" stroke="#2828b0" stroke-width="0.16" text-anchor="end">5.1</text>
<text transform="translate(420.0 521.78) scale(0.94 1)" font-size="10.3" fill="#2828b0" stroke="#2828b0" stroke-width="0.16">AKT.p308</text>
<text transform="translate(520.4 521.78) scale(0.94 1)" font-size="10.3" fill="#2828b0" stroke="#2828b0" stroke-width="0.16" text-anchor="end">15.6</text>
<text transform="translate(420.0 534.40) scale(0.94 1)" font-size="10.3" fill="#2828b0" stroke="#2828b0" stroke-width="0.16">SSBP2</text>
<text transform="translate(520.4 534.40) scale(0.94 1)" font-size="10.3" fill="#2828b0" stroke="#2828b0" stroke-width="0.16" text-anchor="end">10.4</text>
<text transform="translate(420.0 547.03) scale(0.94 1)" font-size="10.3" fill="#2828b0" stroke="#2828b0" stroke-width="0.16">BCL2</text>
<text transform="translate(520.4 547.03) scale(0.94 1)" font-size="10.3" fill="#2828b0" stroke="#2828b0" stroke-width="0.16" text-anchor="end">15.0</text>
<text transform="translate(420.0 559.65) scale(0.94 1)" font-size="10.3" fill="#2828b0" stroke="#2828b0" stroke-width="0.16">AKT.p473</text>
<text transform="translate(520.4 559.65) scale(0.94 1)" font-size="10.3" fill="#2828b0" stroke="#2828b0" stroke-width="0.16" text-anchor="end">60.8</text>
<text transform="translate(420.0 572.27) scale(0.94 1)" font-size="10.3" fill="#9078b8" stroke="#9078b8" stroke-width="0.16">SRC.p527</text>
<text transform="translate(520.4 572.27) scale(0.94 1)" font-size="10.3" fill="#9078b8" stroke="#9078b8" stroke-width="0.16" text-anchor="end">24.8</text>
<text transform="translate(420.0 584.90) scale(0.94 1)" font-size="10.3" fill="#9078b8" stroke="#9078b8" stroke-width="0.16">SRC</text>
<text transform="translate(520.4 584.90) scale(0.94 1)" font-size="10.3" fill="#9078b8" stroke="#9078b8" stroke-width="0.16" text-anchor="end">106.2</text>
<text transform="translate(420.0 597.52) scale(0.94 1)" font-size="10.3" fill="#9078b8" stroke="#9078b8" stroke-width="0.16">S6</text>
<text transform="translate(520.4 597.52) scale(0.94 1)" font-size="10.3" fill="#9078b8" stroke="#9078b8" stroke-width="0.16" text-anchor="end">4.3</text>
<text transform="translate(420.0 610.14) scale(0.94 1)" font-size="10.3" fill="#9078b8" stroke="#9078b8" stroke-width="0.16">SSBP3</text>
<text transform="translate(520.4 610.14) scale(0.94 1)" font-size="10.3" fill="#9078b8" stroke="#9078b8" stroke-width="0.16" text-anchor="end">46.2</text>
<text transform="translate(420.0 622.77) scale(0.94 1)" font-size="10.3" fill="#60c0b0" stroke="#60c0b0" stroke-width="0.16">NRP1</text>
<text transform="translate(520.4 622.77) scale(0.94 1)" font-size="10.3" fill="#60c0b0" stroke="#60c0b0" stroke-width="0.16" text-anchor="end">8.1</text>
<text transform="translate(420.0 635.39) scale(0.94 1)" font-size="10.3" fill="#60c0b0" stroke="#60c0b0" stroke-width="0.16">MCL1</text>
<text transform="translate(520.4 635.39) scale(0.94 1)" font-size="10.3" fill="#60c0b0" stroke="#60c0b0" stroke-width="0.16" text-anchor="end">8.0</text>
<text transform="translate(420.0 648.01) scale(0.94 1)" font-size="10.3" fill="#60c0b0" stroke="#60c0b0" stroke-width="0.16">TP53</text>
<text transform="translate(520.4 648.01) scale(0.94 1)" font-size="10.3" fill="#60c0b0" stroke="#60c0b0" stroke-width="0.16" text-anchor="end">142.2</text>
<text transform="translate(420.0 660.63) scale(0.94 1)" font-size="10.3" fill="#a09838" stroke="#a09838" stroke-width="0.16">TP38.p</text>
<text transform="translate(520.4 660.63) scale(0.94 1)" font-size="10.3" fill="#a09838" stroke="#a09838" stroke-width="0.16" text-anchor="end">40.9</text>
<text transform="translate(420.0 673.26) scale(0.94 1)" font-size="10.3" fill="#a09838" stroke="#a09838" stroke-width="0.16">BAD.p112</text>
<text transform="translate(520.4 673.26) scale(0.94 1)" font-size="10.3" fill="#a09838" stroke="#a09838" stroke-width="0.16" text-anchor="end">5.0</text>
<text transform="translate(420.0 685.88) scale(0.94 1)" font-size="10.3" fill="#a09838" stroke="#a09838" stroke-width="0.16">GSK3.p</text>
<text transform="translate(520.4 685.88) scale(0.94 1)" font-size="10.3" fill="#a09838" stroke="#a09838" stroke-width="0.16" text-anchor="end">3.5</text>
<text transform="translate(420.0 698.50) scale(0.94 1)" font-size="10.3" fill="#a09838" stroke="#a09838" stroke-width="0.16">MEK.p</text>
<text transform="translate(520.4 698.50) scale(0.94 1)" font-size="10.3" fill="#a09838" stroke="#a09838" stroke-width="0.16" text-anchor="end">5.3</text>
<text transform="translate(420.0 711.13) scale(0.94 1)" font-size="10.3" fill="#a09838" stroke="#a09838" stroke-width="0.16">ERk2.p</text>
<text transform="translate(520.4 711.13) scale(0.94 1)" font-size="10.3" fill="#a09838" stroke="#a09838" stroke-width="0.16" text-anchor="end">20.2</text>
<text transform="translate(420.0 723.75) scale(0.94 1)" font-size="10.3" fill="#40c040" stroke="#40c040" stroke-width="0.16">BAX</text>
<text transform="translate(520.4 723.75) scale(0.94 1)" font-size="10.3" fill="#40c040" stroke="#40c040" stroke-width="0.16" text-anchor="end">4.1</text>
<text transform="translate(420.0 736.37) scale(0.94 1)" font-size="10.3" fill="#40c040" stroke="#40c040" stroke-width="0.16">AKT</text>
<text transform="translate(520.4 736.37) scale(0.94 1)" font-size="10.3" fill="#40c040" stroke="#40c040" stroke-width="0.16" text-anchor="end">3.4</text>
<text transform="translate(420.0 749.00) scale(0.94 1)" font-size="10.3" fill="#40c040" stroke="#40c040" stroke-width="0.16">PTEN.p</text>
<text transform="translate(520.4 749.00) scale(0.94 1)" font-size="10.3" fill="#40c040" stroke="#40c040" stroke-width="0.16" text-anchor="end">24.2</text>
<text transform="translate(420.0 761.62) scale(0.94 1)" font-size="10.3" fill="#40c040" stroke="#40c040" stroke-width="0.16">PTEN</text>
<text transform="translate(520.4 761.62) scale(0.94 1)" font-size="10.3" fill="#40c040" stroke="#40c040" stroke-width="0.16" text-anchor="end">48.6</text>
<text transform="translate(420.0 774.24) scale(0.94 1)" font-size="10.3" fill="#40c040" stroke="#40c040" stroke-width="0.16">BAD.p155</text>
<text transform="translate(520.4 774.24) scale(0.94 1)" font-size="10.3" fill="#40c040" stroke="#40c040" stroke-width="0.16" text-anchor="end">4.2</text>
<text x="111.77" y="788.8" font-size="11.1" fill="#1a1a1a" stroke="#1a1a1a" stroke-width="0.15" text-anchor="middle">SG1</text>
<text x="111.77" y="811.2" font-size="10.9" font-weight="bold" fill="#111" text-anchor="middle">34</text>
<text x="158.31" y="788.8" font-size="11.1" fill="#1a1a1a" stroke="#1a1a1a" stroke-width="0.15" text-anchor="middle">SG2</text>
<text x="158.31" y="811.2" font-size="10.9" font-weight="bold" fill="#111" text-anchor="middle">51</text>
<text x="204.86" y="788.8" font-size="11.1" fill="#1a1a1a" stroke="#1a1a1a" stroke-width="0.15" text-anchor="middle">SG6</text>
<text x="204.86" y="811.2" font-size="10.9" font-weight="bold" fill="#111" text-anchor="middle">35</text>
<text x="251.40" y="788.8" font-size="11.1" fill="#1a1a1a" stroke="#1a1a1a" stroke-width="0.15" text-anchor="middle">SG5</text>
<text x="251.40" y="811.2" font-size="10.9" font-weight="bold" fill="#111" text-anchor="middle">33</text>
<text x="297.94" y="788.8" font-size="11.1" fill="#1a1a1a" stroke="#1a1a1a" stroke-width="0.15" text-anchor="middle">SG4</text>
<text x="297.94" y="811.2" font-size="10.9" font-weight="bold" fill="#111" text-anchor="middle">39</text>
<text x="344.49" y="788.8" font-size="11.1" fill="#1a1a1a" stroke="#1a1a1a" stroke-width="0.15" text-anchor="middle">SG7</text>
<text x="344.49" y="811.2" font-size="10.9" font-weight="bold" fill="#111" text-anchor="middle">34</text>
<text x="391.03" y="788.8" font-size="11.1" fill="#1a1a1a" stroke="#1a1a1a" stroke-width="0.15" text-anchor="middle">SG3</text>
<text x="391.03" y="811.2" font-size="10.9" font-weight="bold" fill="#111" text-anchor="middle">42</text>
<text x="66.2" y="811.2" font-size="11.1" font-weight="bold" fill="#111">N =</text>
</svg>
</body></html>
